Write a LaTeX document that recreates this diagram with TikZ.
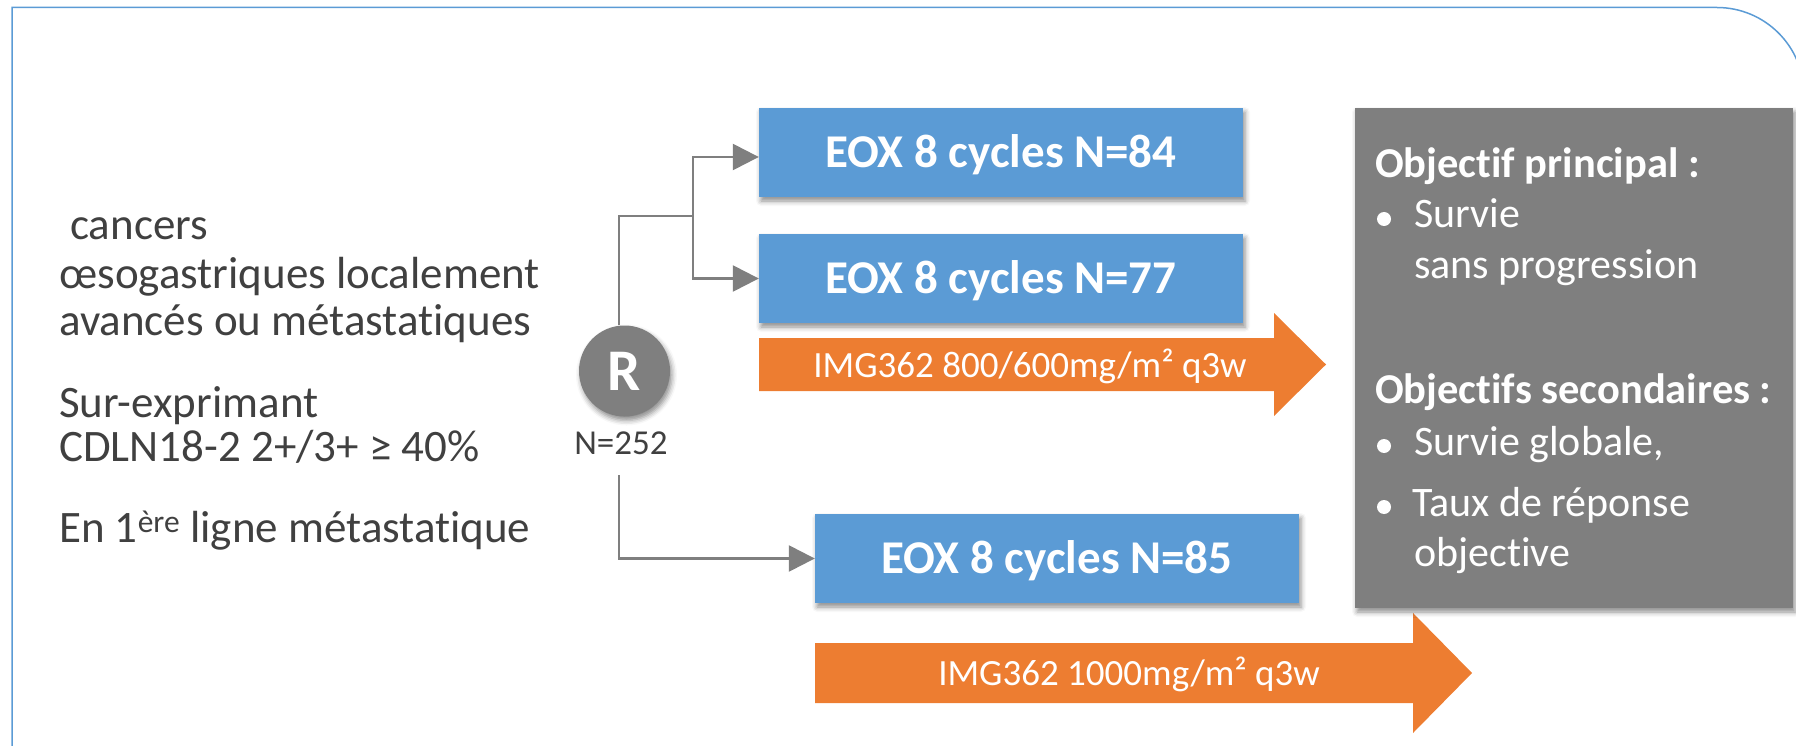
\documentclass[tikz,border=0pt]{standalone}
\usepackage{fontspec}
\setmainfont{Carlito}[Ligatures={NoCommon,NoRare,NoContextual}]
\usetikzlibrary{arrows.meta,shadows.blur}
\definecolor{txtgray}{HTML}{404040}
\definecolor{boxblue}{HTML}{5B9BD5}
\definecolor{armorange}{HTML}{ED7D31}
\definecolor{midgray}{HTML}{7F7F7F}
\definecolor{frameblue}{HTML}{5B9BD5}
\tikzset{
  softshadow/.style={blur shadow={shadow xshift=2pt, shadow yshift=-4pt,
      shadow blur radius=5pt, shadow opacity=45}},
  lefttxt/.style={anchor=base west, inner sep=0pt, text=txtgray,
      font=\fontsize{45}{54}\selectfont},
  bluebox/.style={fill=boxblue, text=white, font=\bfseries\fontsize{47}{50}\selectfont,
      minimum width=484pt, minimum height=89pt, inner sep=0pt,
      text height=30pt, text depth=0pt, softshadow},
  armtxt/.style={anchor=base, inner sep=0pt, text=white,
      font=\fontsize{37}{40}\selectfont},
  objbox/.style={fill=midgray, minimum width=438pt, minimum height=500pt,
      inner sep=0pt, softshadow},
  objhead/.style={anchor=base west, inner sep=0pt, text=white,
      font=\bfseries\fontsize{42.5}{48}\selectfont},
  objtxt/.style={anchor=base west, inner sep=0pt, text=white,
      font=\fontsize{42}{48}\selectfont},
  dot/.style={circle, fill=white, inner sep=0pt, minimum size=14pt},
  conn/.style={draw=midgray, line width=2.5pt,
      -{Triangle[length=26pt,width=26pt]}},
  link/.style={draw=midgray, line width=2.5pt},
}
\begin{document}
\begin{tikzpicture}[x=1pt,y=-1pt]
\useasboundingbox (0,0) rectangle (1796,746);
\clip (0,0) rectangle (1796,746);

% slide frame with a rounded top-right corner
\draw[frameblue, line width=1.5pt]
  (12,760) -- (12,7.5) -- (1717,7.5)
  .. controls (1765,7.5) and (1804,46.5) .. (1804,94.5) -- (1804,760);

% population description
\node[lefttxt] (p1) at (70,240) {cancers};
\node[lefttxt] (p2) at (59,288) {œsogastriques localement};
\node[lefttxt] (p3) at (59,335) {avancés ou métastatiques};
\node[lefttxt] (p4) at (59,417) {Sur-exprimant};
\node[lefttxt] (p5) at (59,461) {CDLN18-2 2+/3+ ≥ 40\%};
\node[lefttxt] (p6) at (59,542) {En 1\textsuperscript{ère} ligne métastatique};

% randomisation
\node[circle, fill=midgray, minimum size=91pt, inner sep=0pt, text=white,
      font=\bfseries\fontsize{59}{59}\selectfont, text height=38pt,
      text depth=0pt, softshadow] (R) at (624.5,371) {R};
\node[anchor=base, inner sep=0pt, text=txtgray,
      font=\fontsize{35}{40}\selectfont] (N) at (621,454) {N=252};

% treatment arms
\node[bluebox] (a1) at (1001,152.5) {EOX 8 cycles N=84};
\node[bluebox] (a2) at (1001,278.5) {EOX 8 cycles N=77};
\node[bluebox] (a3) at (1057,558.5) {EOX 8 cycles N=85};

% add-on arrows
\fill[armorange] (759,338) -- (1274,338) -- (1274,313) -- (1326,364.5)
  -- (1274,416) -- (1274,391) -- (759,391) -- cycle;
\node[armtxt] (d1) at (1030,377) {IMG362 800/600mg/m² q3w};
\fill[armorange] (815,643) -- (1413,643) -- (1413,613) -- (1472,673)
  -- (1413,733) -- (1413,703) -- (815,703) -- cycle;
\node[armtxt] (d2) at (1129,685) {IMG362 1000mg/m² q3w};

% connectors
\coordinate (j1) at (693,216);
\coordinate (j2) at (619,475);
\draw[link] ([xshift=-5.5pt]R.north) |- (j1);
\draw[conn] (j1) |- ([yshift=-4.5pt]a1.west);
\draw[conn] (j1) |- (a2.west);
\draw[conn] (j2) |- (a3.west);

% objectives
\node[objbox] (obj) at (1574,358) {};
\node[objhead] (o1) at (1375,178) {Objectif principal :};
\node[dot] (b1) at (1384,219) {};
\node[objtxt] (o2) at (1414,228) {Survie};
\node[objtxt] (o3) at (1414,278) {sans progression};
\node[objhead] (o4) at (1375,403) {Objectifs secondaires :};
\node[dot] (b2) at (1384,446) {};
\node[objtxt] (o5) at (1414,455) {Survie globale,};
\node[dot] (b3) at (1384,507) {};
\node[objtxt] (o6) at (1412,516) {Taux de réponse};
\node[objtxt] (o7) at (1414,566) {objective};
\end{tikzpicture}
\end{document}
